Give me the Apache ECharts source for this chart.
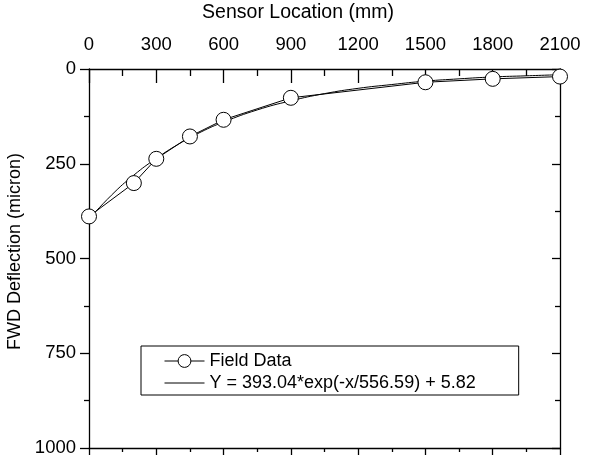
<!DOCTYPE html>
<html>
<head>
<meta charset="utf-8">
<script src="https://cdn.jsdelivr.net/npm/echarts@6/dist/echarts.min.js"></script>
<style>html,body{margin:0;padding:0;background:#fff;}#c{width:597px;height:466px;}</style>
</head>
<body>
<div id="c"></div>
<script>
// Field data (sensor location in mm, deflection in micron)
const sensorX = [0, 200, 300, 450, 600, 900, 1500, 1800, 2100];
const fieldY = [389, 301, 237, 178, 134, 76, 35, 26, 20];
// Fitted curve
const fitX = [0, 100, 200, 300, 400, 500, 600, 750, 900, 1050, 1200, 1350, 1500, 1650, 1800, 1950, 2100];
const fitY = [396, 333, 280, 236, 198, 166, 140, 108, 84, 65, 51, 41, 32, 26, 21, 18, 15];
// Axis settings
const xMin = 0, xMax = 2100, xStep = 300;
const yMin = 0, yMax = 1000, yStep = 250;
const nameField = 'Field Data';
const nameFit = 'Y = 393.04*exp(-x/556.59) + 5.82';

const font = 'Liberation Sans';
const chart = echarts.init(document.getElementById('c'));
const axisLine = {show: true, onZero: false, lineStyle: {color: '#000', width: 1.3}};
const plain = v => String(v);
chart.setOption({
  animation: false,
  backgroundColor: '#fff',
  grid: {left: 89, top: 69, right: 37, bottom: 18, containLabel: false, outerBoundsMode: 'none'},
  xAxis: [{
    type: 'value', position: 'top', min: xMin, max: xMax, interval: xStep,
    name: 'Sensor Location (mm)', nameLocation: 'middle', nameGap: 46,
    nameTextStyle: {fontFamily: font, fontSize: 19.5, color: '#000', padding: [0, 53, 0, 0]},
    axisLine: axisLine,
    axisTick: {show: true, inside: true, length: 14, lineStyle: {color: '#000', width: 1.3}},
    minorTick: {show: true, splitNumber: 2, length: 7, lineStyle: {color: '#000', width: 1.3}},
    axisLabel: {fontFamily: font, fontSize: 18.5, color: '#000', margin: 15, formatter: plain},
    splitLine: {show: false}
  }, {
    type: 'value', position: 'bottom', min: xMin, max: xMax, interval: xStep,
    axisLine: axisLine,
    axisTick: {show: true, inside: false, length: 7, lineStyle: {color: '#000', width: 1.3}},
    minorTick: {show: true, splitNumber: 2, length: 4, lineStyle: {color: '#000', width: 1.3}},
    axisLabel: {show: false},
    splitLine: {show: false}
  }],
  yAxis: [{
    type: 'value', position: 'left', inverse: true, min: yMin, max: yMax, interval: yStep,
    name: 'FWD Deflection (micron)', nameLocation: 'middle', nameGap: 62,
    nameTextStyle: {fontFamily: font, fontSize: 18, color: '#000', padding: [0, 0, 0, 14]},
    axisLine: axisLine,
    axisTick: {show: true, inside: false, length: 9, lineStyle: {color: '#000', width: 1.3}},
    minorTick: {show: true, splitNumber: 2, length: 5, lineStyle: {color: '#000', width: 1.3}},
    axisLabel: {fontFamily: font, fontSize: 18.5, color: '#000', margin: 13, formatter: plain},
    splitLine: {show: false}
  }, {
    type: 'value', position: 'right', inverse: true, min: yMin, max: yMax, interval: yStep,
    axisLine: axisLine,
    axisTick: {show: true, inside: true, length: 8, lineStyle: {color: '#000', width: 1.3}},
    minorTick: {show: true, splitNumber: 2, length: 5, lineStyle: {color: '#000', width: 1.3}},
    axisLabel: {show: false},
    splitLine: {show: false}
  }],
  legend: {
    orient: 'vertical', left: 141, top: 346,
    padding: [6, 43, 3, 23], itemGap: 4, itemWidth: 40, itemHeight: 16,
    borderColor: '#000', borderWidth: 1, backgroundColor: '#fff',
    textStyle: {fontFamily: font, fontSize: 18, color: '#000'},
    lineStyle: {width: 1, color: '#000'},
    data: [
      {name: nameField, itemStyle: {color: '#fff', borderColor: '#000', borderWidth: 1}},
      {name: nameFit, itemStyle: {opacity: 0}}
    ]
  },
  series: [{
    name: nameFit, type: 'line', smooth: true, symbol: 'none',
    lineStyle: {color: '#000', width: 1},
    itemStyle: {color: '#000'},
    data: fitX.map((x, i) => [x, fitY[i]]), z: 2
  }, {
    name: nameField, type: 'line', symbol: 'circle', symbolSize: 15,
    lineStyle: {color: '#000', width: 1},
    itemStyle: {color: '#fff', borderColor: '#000', borderWidth: 1},
    data: sensorX.map((x, i) => [x, fieldY[i]]), z: 3
  }]
});
</script>
</body>
</html>
